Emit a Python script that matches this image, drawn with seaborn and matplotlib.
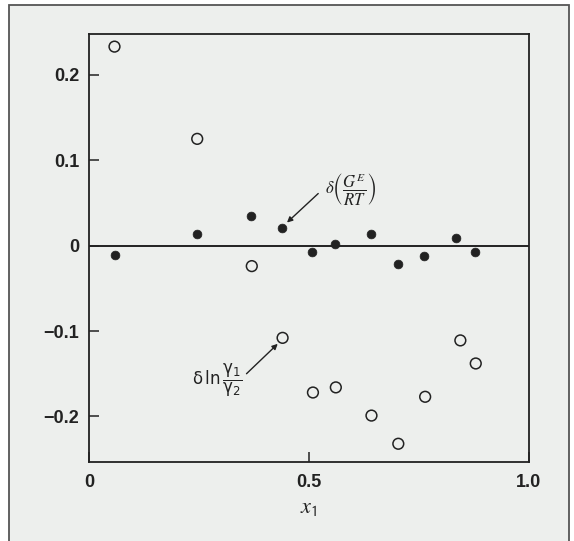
import matplotlib
matplotlib.use("Agg")
import matplotlib.pyplot as plt
import seaborn as sns
from matplotlib.patches import Rectangle

# residuals
x_ge = [0.060, 0.246, 0.368, 0.439, 0.506, 0.558, 0.640, 0.703, 0.762, 0.834, 0.877]
d_ge = [-0.011, 0.014, 0.035, 0.021, -0.007, 0.002, 0.014, -0.021, -0.012, 0.009, -0.007]

x_lng = [0.058, 0.246, 0.370, 0.440, 0.509, 0.561, 0.642, 0.703, 0.764, 0.844, 0.879]
d_lng = [0.233, 0.125, -0.024, -0.108, -0.172, -0.166, -0.199, -0.232, -0.177, -0.111, -0.138]

xticks = [0, 0.5, 1.0]
xticklabels = ["0", "0.5", "1.0"]
yticks = [-0.2, -0.1, 0, 0.1, 0.2]
yticklabels = ["\u22120.2", "\u22120.1", "0", "0.1", "0.2"]

INK = "#222222"
PAPER = "#edefed"

sns.set_style("white")
plt.rcParams["font.family"] = ["Liberation Sans", "DejaVu Sans"]

fig = plt.figure(figsize=(5.74, 5.41), dpi=100)
fig.patch.set_facecolor("white")
fig.patches.append(Rectangle((0.0157, -0.01), 0.976, 1.0008, transform=fig.transFigure,
                             facecolor=PAPER, edgecolor="#555555", lw=1.3, zorder=-10))

ax = fig.add_axes([0.155, 0.1466, 0.7666, 0.7909])
ax.set_facecolor(PAPER)

ax.axhline(0, color=INK, lw=1.4, zorder=2)
sns.scatterplot(x=x_ge, y=d_ge, ax=ax, color=INK, edgecolor=INK, s=40, linewidth=0.5, zorder=3)
sns.scatterplot(x=x_lng, y=d_lng, ax=ax, facecolors="none", edgecolor=INK, s=60, linewidth=1.1, zorder=3)

ax.set_xlim(0, 1)
ax.set_ylim(-0.253, 0.248)
ax.set_xticks(xticks)
ax.set_xticklabels(xticklabels)
ax.set_yticks(yticks)
ax.set_yticklabels(yticklabels)
ax.tick_params(direction="in", length=7, width=1.1, color=INK, labelcolor=INK,
               labelsize=13, bottom=True, left=True)
ax.tick_params(axis="y", pad=7)
ax.tick_params(axis="x", pad=9)
for lab in ax.get_xticklabels() + ax.get_yticklabels():
    lab.set_fontweight("bold")

for sp in ax.spines.values():
    sp.set_color(INK)
    sp.set_linewidth(1.3)

ax.set_xlabel(r"$x_{\mathsf{1}}$", math_fontfamily="stix", fontsize=16, color=INK, labelpad=4)
ax.set_ylabel("")

# annotations
ax.text(0.536, 0.065, r"$\delta\left(\dfrac{G^E}{RT}\right)$", math_fontfamily="stix",
        fontsize=12, ha="left", va="center", color=INK)
ax.annotate("", xy=(0.450, 0.027), xytext=(0.521, 0.061),
            arrowprops=dict(arrowstyle="-|>", color=INK, lw=1, shrinkA=0, shrinkB=0, mutation_scale=8))

ax.text(0.235, -0.158, r"$\mathrm{\delta\,ln}\,\dfrac{\mathrm{\gamma_1}}{\mathrm{\gamma_2}}$",
        math_fontfamily="dejavusans", fontsize=12, ha="left", va="center", color=INK)
ax.annotate("", xy=(0.429, -0.115), xytext=(0.358, -0.150),
            arrowprops=dict(arrowstyle="-|>", color=INK, lw=1, shrinkA=0, shrinkB=0, mutation_scale=8))

fig.savefig("out.png", dpi=100)
